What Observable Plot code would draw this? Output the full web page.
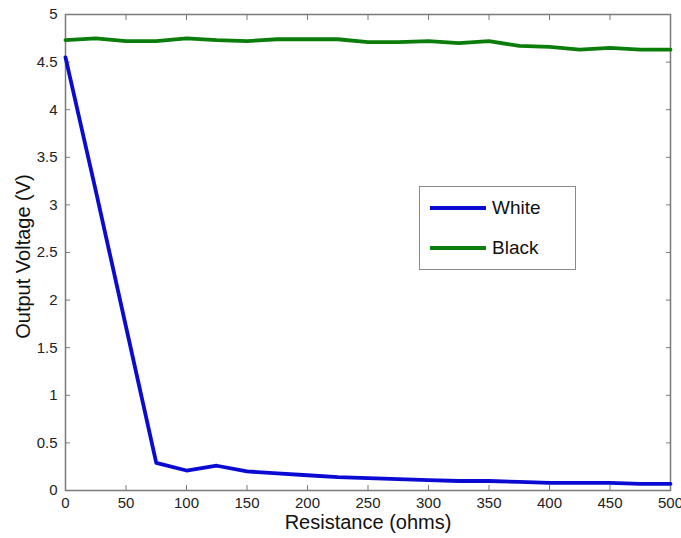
<!DOCTYPE html>
<html>
<head>
<meta charset="utf-8">
<script src="https://cdn.jsdelivr.net/npm/d3@7"></script>
<script src="https://cdn.jsdelivr.net/npm/@observablehq/plot@0.6"></script>
<style>
  html, body { margin: 0; padding: 0; background: #fff; }
  #wrap { position: relative; width: 681px; height: 538px; font-family: "Liberation Sans", Arial, Helvetica, sans-serif; }
  #legend { position: absolute; left: 419px; top: 186px; width: 157px; height: 84px; border: 1px solid #8a8a8a; background: #fff; box-sizing: border-box; }
  .item { position: absolute; left: 10px; display: flex; align-items: center; font-size: 19px; color: #111; }
  .swatch { width: 56px; height: 0; border-top: 4px solid; margin-right: 6px; }
</style>
</head>
<body>
<div id="wrap"></div>
<script>
// Resistance sweep (ohms) and measured output voltage (V) for each surface
const resistance = [0, 25, 50, 75, 100, 125, 150, 175, 200, 225, 250, 275, 300, 325, 350, 375, 400, 425, 450, 475, 500];
const whiteVoltage = [4.55, 3.15, 1.72, 0.29, 0.21, 0.26, 0.20, 0.18, 0.16, 0.14, 0.13, 0.12, 0.11, 0.10, 0.10, 0.09, 0.08, 0.08, 0.08, 0.07, 0.07];
const blackVoltage = [4.73, 4.75, 4.72, 4.72, 4.75, 4.73, 4.72, 4.74, 4.74, 4.74, 4.71, 4.71, 4.72, 4.70, 4.72, 4.67, 4.66, 4.63, 4.65, 4.63, 4.63];
const seriesNames = ["White", "Black"];
const seriesColors = ["#0a0ad2", "#0b7d0b"];
const xTicks = [0, 50, 100, 150, 200, 250, 300, 350, 400, 450, 500];
const yTicks = [0, 0.5, 1, 1.5, 2, 2.5, 3, 3.5, 4, 4.5, 5];

const seriesValues = [whiteVoltage, blackVoltage];

const axisColor = "#7a7a7a";
const noLabel = () => "";
const chart = Plot.plot({
  width: 681,
  height: 538,
  marginLeft: 65,
  marginRight: 11,
  marginTop: 14,
  marginBottom: 48,
  style: {fontFamily: "Liberation Sans, Arial, Helvetica, sans-serif", fontSize: "15px", color: "#222", background: "#fff"},
  x: {domain: [0, 500]},
  y: {domain: [0, 5]},
  marks: [
    Plot.frame({stroke: axisColor, strokeWidth: 1.5}),
    Plot.axisX({anchor: "bottom", ticks: xTicks, tickFormat: d => String(d), tickSize: -5, tickPadding: 12, stroke: axisColor, fill: "#222", label: null}),
    Plot.axisX({anchor: "top", ticks: xTicks, tickFormat: noLabel, tickSize: -5, stroke: axisColor, label: null}),
    Plot.axisY({anchor: "left", ticks: yTicks, tickFormat: d => String(d), tickSize: -5, tickPadding: 13, stroke: axisColor, fill: "#222", label: null}),
    Plot.axisY({anchor: "right", ticks: yTicks, tickFormat: noLabel, tickSize: -5, stroke: axisColor, label: null}),
    ...seriesValues.map((vals, s) =>
      Plot.line(resistance, {x: d => d, y: (d, i) => vals[i], stroke: seriesColors[s], strokeWidth: 3.8, strokeLinejoin: "round"})
    ),
    Plot.text(["Resistance (ohms)"], {frameAnchor: "bottom", dy: 38, fontSize: 20, fill: "#111"}),
    Plot.text(["Output Voltage (V)"], {frameAnchor: "left", textAnchor: "middle", dx: -42, dy: 4, rotate: -90, fontSize: 20, fill: "#111"})
  ]
});

const wrap = document.getElementById("wrap");
wrap.appendChild(chart);

const legend = document.createElement("div");
legend.id = "legend";
seriesNames.forEach((name, i) => {
  const item = document.createElement("div");
  item.className = "item";
  item.style.top = (i === 0 ? 10 : 50) + "px";
  const sw = document.createElement("span");
  sw.className = "swatch";
  sw.style.borderTopColor = seriesColors[i];
  const label = document.createElement("span");
  label.textContent = name;
  item.appendChild(sw);
  item.appendChild(label);
  legend.appendChild(item);
});
wrap.appendChild(legend);
</script>
</body>
</html>
